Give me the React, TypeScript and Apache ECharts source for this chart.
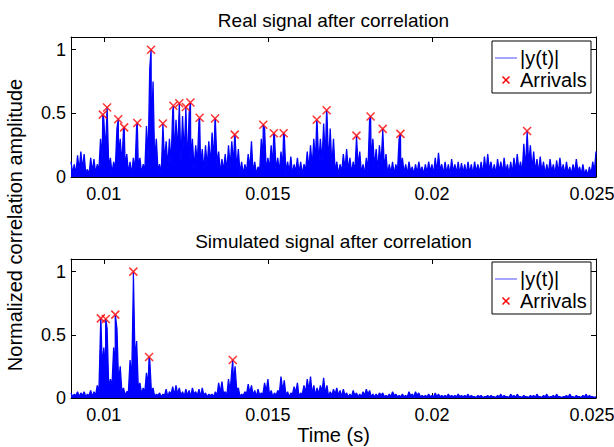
import React, { useEffect, useRef } from "react";
import * as echarts from "echarts";

// ---- data ----
const T0 = 0.009; // first sample time (s)
const STEP = 0.0001; // sample spacing of the envelope arrays (s)
const X_MIN = 0.009;
const X_MAX = 0.025;
const Y_MAX = 1.1;
const xTickValues = [0.01, 0.015, 0.02, 0.025];
const yTickValues = [0, 0.5, 1];

const titles = ["Real signal after correlation", "Simulated signal after correlation"];
const seriesNames = ["|y(t)|", "Arrivals"];

// Real signal: oscillation crests (at T0 + i*STEP) and troughs (half a step later)
const realUpper = [
  0.12, 0.1, 0.17, 0.2, 0.18, 0.06, 0.15, 0.14, 0.1, 0.3,
  0.45, 0.54, 0.15, 0.12, 0.38, 0.3, 0.37, 0.18, 0.12, 0.15,
  0.4, 0.15, 0.1, 0.4, 0.85, 0.75, 0.3, 0.1, 0.4, 0.28,
  0.3, 0.52, 0.45, 0.56, 0.48, 0.53, 0.5, 0.3, 0.25, 0.44,
  0.22, 0.25, 0.28, 0.35, 0.44, 0.2, 0.14, 0.18, 0.25, 0.28,
  0.32, 0.22, 0.12, 0.1, 0.18, 0.28, 0.12, 0.08, 0.3, 0.38,
  0.15, 0.25, 0.33, 0.15, 0.2, 0.33, 0.12, 0.16, 0.1, 0.15,
  0.12, 0.1, 0.2, 0.25, 0.3, 0.43, 0.3, 0.42, 0.5, 0.38,
  0.3, 0.12, 0.1, 0.18, 0.22, 0.15, 0.12, 0.3, 0.2, 0.1,
  0.15, 0.45, 0.3, 0.22, 0.25, 0.36, 0.18, 0.1, 0.12, 0.1,
  0.3, 0.15, 0.1, 0.12, 0.08, 0.1, 0.12, 0.08, 0.1, 0.12,
  0.1, 0.15, 0.19, 0.1, 0.12, 0.1, 0.14, 0.1, 0.12, 0.11,
  0.1, 0.12, 0.1, 0.12, 0.1, 0.12, 0.16, 0.18, 0.12, 0.1,
  0.14, 0.12, 0.15, 0.1, 0.12, 0.15, 0.18, 0.12, 0.26, 0.34,
  0.25, 0.2, 0.14, 0.16, 0.12, 0.1, 0.14, 0.1, 0.13, 0.15,
  0.1, 0.12, 0.08, 0.1, 0.14, 0.08, 0.1, 0.06, 0.08, 0.12, 0.2,
];
const realLower = [
  0.03, 0.02, 0.05, 0.06, 0.03, 0.02, 0.04, 0.03, 0.05,
  0.15, 0.2, 0.08,
  0.03, 0.06,
  0.15, 0.1, 0.08,
  0.03, 0.02, 0.05,
  0.08, 0.03, 0.05,
  0.15, 0.3, 0.12, 0.05,
  0.02, 0.12, 0.08, 0.1,
  0.15, 0.2, 0.12, 0.18, 0.1, 0.12, 0.06, 0.1, 0.08,
  0.05, 0.08, 0.1, 0.12, 0.1,
  0.03, 0.05, 0.04, 0.08, 0.1, 0.06,
  0.03, 0.02, 0.04, 0.06, 0.03, 0.02, 0.05, 0.12, 0.04, 0.06,
  0.08, 0.05, 0.04, 0.08, 0.03, 0.04, 0.02, 0.04, 0.03, 0.02,
  0.05, 0.06, 0.08, 0.12, 0.1, 0.12, 0.15, 0.1, 0.08, 0.04,
  0.02, 0.04, 0.06, 0.05, 0.03, 0.04, 0.08, 0.03, 0.02, 0.05,
  0.12, 0.08, 0.05, 0.1, 0.06, 0.02, 0.03, 0.02, 0.04, 0.08,
  0.03, 0.02, 0.04, 0.02, 0.03, 0.04, 0.02, 0.03, 0.04, 0.02,
  0.04, 0.05, 0.02, 0.03, 0.02, 0.04, 0.03, 0.02, 0.03, 0.02,
  0.03, 0.02, 0.04, 0.03, 0.02, 0.04, 0.05, 0.03, 0.02, 0.04,
  0.03, 0.04, 0.02, 0.03, 0.04, 0.05, 0.03, 0.06, 0.1, 0.06,
  0.04, 0.03, 0.04, 0.02, 0.03, 0.04, 0.02, 0.03, 0.04, 0.02,
  0.03, 0.02, 0.03, 0.04, 0.02, 0.02, 0.01, 0.02, 0.04,
];
const realArrivalTimes = [
  0.00997, 0.0101, 0.01044, 0.01062, 0.01102, 0.01144, 0.0118, 0.01212,
  0.0123, 0.0125, 0.01264, 0.01292, 0.01339, 0.01399, 0.01486, 0.01518,
  0.01548, 0.01649, 0.01679, 0.0177, 0.01813, 0.0185, 0.01904, 0.0229,
];
const realArrivalValues = [
  0.49, 0.546, 0.454, 0.39, 0.425, 1.0, 0.42, 0.56,
  0.58, 0.55, 0.585, 0.465, 0.46, 0.333, 0.41, 0.344,
  0.344, 0.45, 0.525, 0.325, 0.475, 0.378, 0.339, 0.362,
];

// Simulated signal
const simUpper = [
  0.04, 0.03, 0.05, 0.04, 0.05, 0.03, 0.06, 0.05, 0.1, 0.55,
  0.4, 0.55, 0.15, 0.4, 0.55, 0.25, 0.08, 0.05, 0.3, 0.9,
  0.45, 0.12, 0.08, 0.2, 0.3, 0.08, 0.03, 0.04, 0.03, 0.07,
  0.05, 0.09, 0.1, 0.08, 0.05, 0.07, 0.06, 0.08, 0.05, 0.07,
  0.08, 0.04, 0.03, 0.03, 0.05, 0.12, 0.13, 0.05, 0.15, 0.22,
  0.25, 0.08, 0.03, 0.05, 0.11, 0.1, 0.06, 0.07, 0.04, 0.12,
  0.15, 0.06, 0.04, 0.06, 0.17, 0.14, 0.05, 0.04, 0.09, 0.12,
  0.04, 0.1, 0.15, 0.17, 0.1, 0.08, 0.1, 0.16, 0.1, 0.05,
  0.07, 0.08, 0.06, 0.07, 0.04, 0.03, 0.06, 0.04, 0.03, 0.05,
  0.07, 0.06, 0.03, 0.03, 0.04, 0.04, 0.02, 0.03, 0.05, 0.03,
  0.02, 0.03, 0.02, 0.05, 0.03, 0.05, 0.04, 0.02, 0.02, 0.03,
  0.02, 0.04, 0.03, 0.02, 0.02, 0.03, 0.02, 0.02, 0.03, 0.02,
  0.02, 0.03, 0.02, 0.01, 0.02, 0.02, 0.01, 0.02, 0.02, 0.01,
  0.02, 0.03, 0.02, 0.01, 0.03, 0.02, 0.03, 0.01, 0.02, 0.01,
  0.02, 0.02, 0.03, 0.01, 0.02, 0.03, 0.01, 0.02, 0.03, 0.01,
  0.01, 0.02, 0.03, 0.01, 0.02, 0.01, 0.02, 0.03, 0.02, 0.01, 0.01,
];
const simLower = [
  0.01, 0.02, 0.01, 0.02, 0.01, 0.02, 0.01, 0.02,
  0.05, 0.25, 0.2, 0.08,
  0.1, 0.2, 0.12, 0.05,
  0.02, 0.05,
  0.15, 0.3, 0.08,
  0.03, 0.05, 0.1, 0.05,
  0.01, 0.02, 0.01, 0.02, 0.01, 0.03,
  0.02, 0.03, 0.02, 0.01, 0.02, 0.01, 0.03, 0.02, 0.01, 0.02,
  0.01, 0.02, 0.01, 0.02, 0.04, 0.03, 0.02, 0.05, 0.1, 0.06,
  0.01, 0.02, 0.03, 0.04, 0.02, 0.01, 0.02, 0.03, 0.05, 0.02,
  0.01, 0.02, 0.04, 0.06, 0.02, 0.01, 0.03, 0.04, 0.01, 0.03,
  0.04, 0.06, 0.03, 0.02, 0.03, 0.05, 0.03, 0.01, 0.02, 0.03,
  0.02, 0.01, 0.02, 0.01, 0.01, 0.02, 0.01, 0.01, 0.02, 0.03,
  0.01, 0.01, 0.01, 0.02, 0.01, 0.01, 0.01, 0.02, 0.01, 0.01,
  0.01, 0.01, 0.02, 0.01, 0.02, 0.01, 0.01, 0.01, 0.01, 0.01,
  0.01, 0.01, 0.01, 0.01, 0.01, 0.01, 0.01, 0.01, 0.01, 0.01,
  0.005, 0.01, 0.005, 0.01, 0.005, 0.01, 0.005, 0.01, 0.005, 0.01,
  0.005, 0.01, 0.005, 0.01, 0.005, 0.01, 0.005, 0.01, 0.005, 0.01,
  0.005, 0.01, 0.005, 0.01, 0.005, 0.01, 0.005, 0.01, 0.005, 0.01,
  0.005, 0.01, 0.005, 0.01, 0.005, 0.01, 0.005, 0.01, 0.005,
];
const simArrivalTimes = [0.00991, 0.01006, 0.01035, 0.0109, 0.01138, 0.01393];
const simArrivalValues = [0.63, 0.625, 0.66, 1.0, 0.325, 0.3];

// ---- helpers ----
function buildSignal(upper: number[], lower: number[], at: number[], av: number[]) {
  const pts: [number, number][] = [];
  for (let i = 0; i < upper.length; i++) {
    pts.push([+(T0 + i * STEP).toFixed(6), upper[i]]);
    if (i < lower.length) pts.push([+(T0 + (i + 0.5) * STEP).toFixed(6), lower[i]]);
  }
  for (let k = 0; k < at.length; k++) pts.push([at[k], av[k]]);
  pts.sort((a, b) => a[0] - b[0]);
  return pts;
}
function pairs(t: number[], v: number[]) {
  return t.map((x, i) => [x, v[i]]);
}

const FONT = "'Liberation Sans', Arial, Helvetica, sans-serif";
const CROSS = "path://M0,0L10,10M10,0L0,10";
const BLUE = "#0000ff";
const RED = "#ff0000";

// legend box drawn as graphic elements (box, line sample, cross sample, two texts)
function legendBox(top: number) {
  const left = 492;
  const r1 = top + 17;
  const r2 = top + 39;
  const cx = 506;
  const h = 3.5;
  return {
    type: "group", z: 100,
    children: [
      { type: "rect", shape: { x: left, y: top, width: 99, height: 52 }, style: { fill: "#fff", stroke: "#000", lineWidth: 1 } },
      { type: "line", shape: { x1: 495, y1: r1, x2: 517, y2: r1 }, style: { stroke: "#6a6aff", lineWidth: 1.2 } },
      { type: "line", shape: { x1: cx - h, y1: r2 - h, x2: cx + h, y2: r2 + h }, style: { stroke: RED, lineWidth: 1.5 } },
      { type: "line", shape: { x1: cx - h, y1: r2 + h, x2: cx + h, y2: r2 - h }, style: { stroke: RED, lineWidth: 1.5 } },
      { type: "text", x: 520, y: r1, style: { text: seriesNames[0], fontSize: 20, fontFamily: FONT, fill: "#000", verticalAlign: "middle", align: "left" } },
      { type: "text", x: 520, y: r2, style: { text: seriesNames[1], fontSize: 20, fontFamily: FONT, fill: "#000", verticalAlign: "middle", align: "left" } },
    ],
  };
}

export default function App() {
  const ref = useRef<HTMLDivElement>(null);
  useEffect(() => {
    if (!ref.current) return;
    const chart = echarts.init(ref.current, null, { renderer: "svg" });
    const grids = [
      { left: 71, top: 37, width: 525, height: 140 },
      { left: 71, top: 259, width: 525, height: 139 },
    ];
    const axisLine = { show: true, onZero: false, lineStyle: { color: "#000", width: 1 } };
    const xAxes: any[] = [];
    const yAxes: any[] = [];
    grids.forEach((_, g) => {
      xAxes.push({
        type: "value", gridIndex: g, min: X_MIN, max: X_MAX, position: "bottom",
        axisLine, splitLine: { show: false },
        axisTick: { show: true, inside: true, length: 5, customValues: xTickValues.slice(0, 3), lineStyle: { color: "#000" } },
        axisLabel: {
          show: true, customValues: xTickValues, margin: 8, color: "#000", fontSize: 18, fontFamily: FONT,
          showMinLabel: true, showMaxLabel: true,
          formatter: (v: number) => {
            const s = String(Number(v.toFixed(3)));
            return v >= X_MAX - 1e-9 ? "{edge|" + s + "}" : s;
          },
          rich: { edge: { fontSize: 18, fontFamily: FONT, color: "#000", padding: [0, 8, 0, 0] } },
        },
        name: g === 1 ? "Time (s)" : "",
        nameLocation: "middle", nameGap: 27,
        nameTextStyle: { fontSize: 20, color: "#000", fontFamily: FONT },
      });
      xAxes.push({
        type: "value", gridIndex: g, min: X_MIN, max: X_MAX, position: "top",
        axisLine, splitLine: { show: false },
        axisTick: { show: true, inside: true, length: 5, customValues: xTickValues.slice(0, 3), lineStyle: { color: "#000" } },
        axisLabel: { show: false },
      });
      yAxes.push({
        type: "value", gridIndex: g, min: 0, max: Y_MAX, position: "left",
        axisLine, splitLine: { show: false },
        axisTick: { show: true, inside: true, length: 5, customValues: yTickValues, lineStyle: { color: "#000" } },
        axisLabel: {
          show: true, customValues: yTickValues, margin: 5, color: "#000", fontSize: 18, fontFamily: FONT,
          formatter: (v: number) => String(Number(v.toFixed(2))),
        },
      });
      yAxes.push({
        type: "value", gridIndex: g, min: 0, max: Y_MAX, position: "right",
        axisLine, splitLine: { show: false },
        axisTick: { show: true, inside: true, length: 5, customValues: yTickValues, lineStyle: { color: "#000" } },
        axisLabel: { show: false },
      });
    });

    const lineSeries = (data: any, xi: number, yi: number) => ({
      name: seriesNames[0], type: "line", xAxisIndex: xi, yAxisIndex: yi, data,
      symbol: "none", showSymbol: false, clip: true,
      lineStyle: { color: BLUE, width: 1.3 }, itemStyle: { color: BLUE },
      areaStyle: { color: BLUE, opacity: 1, origin: "start" }, z: 2,
    });
    const arrSeries = (data: any, xi: number, yi: number) => ({
      name: seriesNames[1], type: "scatter", xAxisIndex: xi, yAxisIndex: yi, data,
      symbol: CROSS, symbolSize: 8,
      itemStyle: { color: "rgba(0,0,0,0)", borderColor: RED, borderWidth: 1.5 }, z: 3,
    });

    chart.setOption({
      animation: false,
      backgroundColor: "#fff",
      title: [
        { text: titles[0], left: 333.5, top: 11, textAlign: "center", padding: 0,
          textStyle: { fontSize: 19, fontWeight: "normal", color: "#000", fontFamily: FONT } },
        { text: titles[1], left: 333.5, top: 232, textAlign: "center", padding: 0,
          textStyle: { fontSize: 19, fontWeight: "normal", color: "#000", fontFamily: FONT } },
      ],
      grid: grids.map((g) => ({ ...g, containLabel: false, outerBoundsMode: "none" })),
      xAxis: xAxes,
      yAxis: yAxes,
      graphic: [
        {
          type: "text", x: 15, y: 225, rotation: Math.PI / 2,
          style: { text: "Normalized correlation amplitude", fontSize: 20, fontFamily: FONT, fill: "#000", align: "center", verticalAlign: "middle" },
        },
        legendBox(41),
        legendBox(262),
      ],
      series: [
        lineSeries(buildSignal(realUpper, realLower, realArrivalTimes, realArrivalValues), 0, 0),
        arrSeries(pairs(realArrivalTimes, realArrivalValues), 0, 0),
        lineSeries(buildSignal(simUpper, simLower, simArrivalTimes, simArrivalValues), 2, 2),
        arrSeries(pairs(simArrivalTimes, simArrivalValues), 2, 2),
      ],
    });
    return () => chart.dispose();
  }, []);
  return (
    <div
      ref={ref}
      style={{ position: "fixed", left: 0, top: 0, width: 614, height: 447, background: "#fff" }}
    />
  );
}
